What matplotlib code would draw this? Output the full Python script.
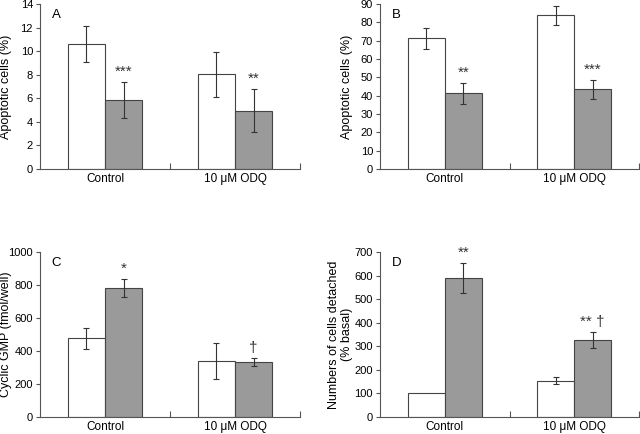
import matplotlib
matplotlib.use('Agg')
import matplotlib.pyplot as plt
import numpy as np

plt.rcParams['font.family'] = ['Liberation Sans', 'DejaVu Sans']

groups = ['Control', '10 \u03bcM ODQ']

# panel A
a_white = [10.6, 8.05]
a_white_err = [1.5, 1.9]
a_grey = [5.85, 4.95]
a_grey_err = [1.5, 1.8]
a_marks = ['***', '**']

# panel B
b_white = [71.2, 83.8]
b_white_err = [5.6, 5.3]
b_grey = [41.2, 43.5]
b_grey_err = [5.5, 5.1]
b_marks = ['**', '***']

# panel C
c_white = [476, 341]
c_white_err = [66, 110]
c_grey = [782, 333]
c_grey_err = [54, 24]
c_marks = ['*', '\u2020']

# panel D
d_white = [100, 154]
d_white_err = [0, 14]
d_grey = [590, 326]
d_grey_err = [64, 35]
d_marks = ['**', '** \u2020']

panels = [
    ('A', a_white, a_white_err, a_grey, a_grey_err, a_marks, 14, 2, 'Apoptotic cells (%)'),
    ('B', b_white, b_white_err, b_grey, b_grey_err, b_marks, 90, 10, 'Apoptotic cells (%)'),
    ('C', c_white, c_white_err, c_grey, c_grey_err, c_marks, 1000, 200, 'Cyclic GMP (fmol/well)'),
    ('D', d_white, d_white_err, d_grey, d_grey_err, d_marks, 700, 100, 'Numbers of cells detached\n(% basal)'),
]

positions = [
    [40/640, 1-169/434, 260/640, 165/434],
    [380/640, 1-169/434, 259/640, 165/434],
    [40/640, 1-417/434, 260/640, 165/434],
    [380/640, 1-417/434, 259/640, 165/434],
]

fig = plt.figure(figsize=(6.4, 4.34), dpi=100)
axc = '#555555'
w = 0.285
x = np.array([0.5, 1.5])

for (letter, wv, we, gv, ge, marks, ymax, ystep, ylab), pos in zip(panels, positions):
    ax = fig.add_axes(pos)
    ekw = dict(ecolor='#333333', elinewidth=0.8, capsize=2.5, capthick=0.8)
    ax.bar(x - w/2, wv, w, color='white', edgecolor='#444444', linewidth=0.8,
           yerr=[e if e > 0 else np.nan for e in we], error_kw=ekw)
    ax.bar(x + w/2, gv, w, color='#9a9a9a', edgecolor='#444444', linewidth=0.8,
           yerr=ge, error_kw=ekw)
    for i in range(2):
        ax.text(x[i] + w/2, gv[i] + ge[i] + ymax*0.02, marks[i], ha='center', va='bottom',
                fontsize=11, color='#333333')
    ax.set_xlim(0, 2)
    ax.set_ylim(0, ymax)
    ax.set_yticks(np.arange(0, ymax + ystep/2, ystep))
    ax.set_xticks(x)
    ax.set_xticklabels(groups)
    ax.set_xticks([1, 2], minor=True)
    ax.tick_params(axis='x', which='major', length=0, labelsize=8.5, pad=3)
    ax.tick_params(axis='x', which='minor', direction='in', length=4, color=axc, width=0.8)
    ax.tick_params(axis='y', direction='out', length=3, labelsize=8, color=axc, width=0.8, pad=2)
    for s in ['top', 'right']:
        ax.spines[s].set_visible(False)
    for s in ['left', 'bottom']:
        ax.spines[s].set_color(axc)
        ax.spines[s].set_linewidth(0.8)
    ax.set_ylabel(ylab, fontsize=9, linespacing=1.1)
    ax.yaxis.set_label_coords(-0.106, 0.5)
    ax.text(0.045, 0.97, letter, transform=ax.transAxes, fontsize=9.5, va='top', ha='left')

fig.savefig('out.png', dpi=100)
